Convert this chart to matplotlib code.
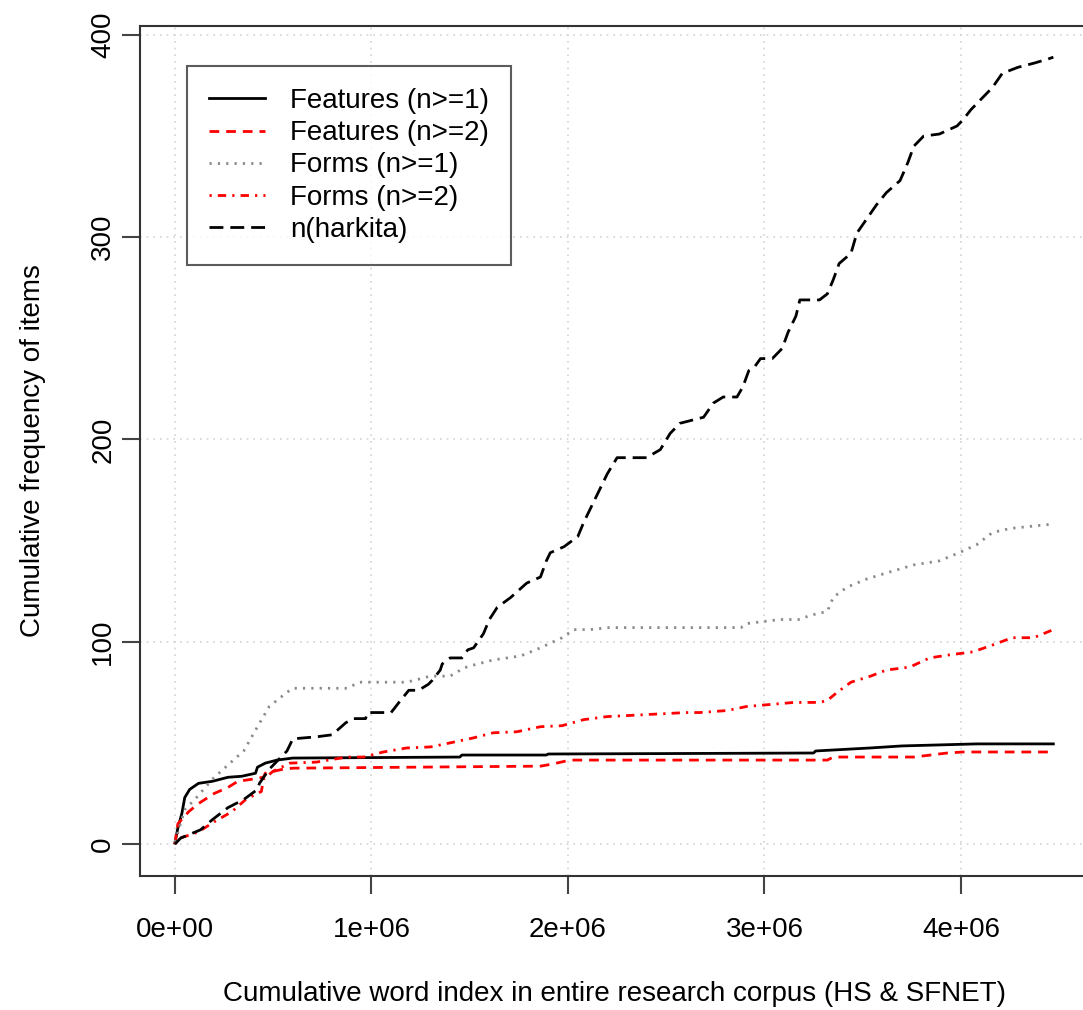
import numpy as np
import matplotlib
matplotlib.use("Agg")
import matplotlib.pyplot as plt

plt.rcParams['font.family'] = ['Liberation Sans', 'DejaVu Sans']

# cumulative word index (millions) and cumulative counts for each series
harkita_x = [0, 0.03, 0.13, 0.19, 0.27, 0.35, 0.42, 0.43, 0.48, 0.57, 0.60, 0.72, 0.80, 0.87,
             0.91, 0.97, 0.98, 1.10, 1.14, 1.19, 1.24, 1.29, 1.31, 1.35, 1.36, 1.40, 1.46,
             1.49, 1.52, 1.57, 1.60, 1.64, 1.71, 1.79, 1.86, 1.89, 1.91, 1.98, 2.05, 2.08,
             2.13, 2.16, 2.20, 2.25, 2.40, 2.47, 2.52, 2.57, 2.69, 2.74, 2.79, 2.86, 2.89,
             2.92, 2.95, 2.98, 3.04, 3.09, 3.12, 3.16, 3.18, 3.28, 3.32, 3.35, 3.38, 3.44,
             3.47, 3.52, 3.57, 3.62, 3.69, 3.73, 3.76, 3.81, 3.89, 3.98, 4.01, 4.05, 4.11,
             4.16, 4.21, 4.29, 4.37, 4.44, 4.47]
harkita_y = [0, 3, 7, 12, 18, 22, 27, 30, 37, 46, 52, 53, 54, 60,
             62, 62, 65, 65, 70, 76, 76, 79, 81, 86, 89, 92, 92,
             96, 97, 104, 111, 117, 122, 129, 132, 140, 144, 147, 152, 159,
             169, 175, 183, 191, 191, 195, 203, 208, 211, 218, 221, 221, 226,
             234, 236, 240, 240, 245, 253, 261, 269, 269, 272, 279, 287, 292,
             302, 309, 316, 322, 328, 337, 345, 350, 351, 355, 358, 363, 369,
             374, 381, 384, 386, 388, 389]

forms1_x = [0, 0.05, 0.11, 0.19, 0.28, 0.35, 0.42, 0.48, 0.57, 0.60, 0.875, 0.94, 1.18,
            1.30, 1.40, 1.47, 1.50, 1.62, 1.76, 1.86, 1.97, 2.03, 2.11, 2.21, 2.45, 2.88,
            2.91, 3.08, 3.18, 3.23, 3.32, 3.35, 3.42, 3.52, 3.62, 3.76, 3.89, 3.99, 4.08,
            4.16, 4.25, 4.45]
forms1_y = [1, 17, 23, 32, 40, 46, 58, 68, 75, 77, 77, 80, 80,
            83, 83, 87, 88, 91, 93, 97, 102, 106, 106, 107, 107, 107,
            109, 111, 111, 113, 115, 122, 127, 131, 134, 138, 140, 144, 148,
            154, 156, 158]

forms2_x = [0, 0.03, 0.12, 0.20, 0.29, 0.36, 0.40, 0.44, 0.45, 0.50, 0.585, 0.72, 0.875,
            0.96, 1.06, 1.18, 1.30, 1.40, 1.52, 1.62, 1.74, 1.86, 1.97, 2.08, 2.20, 2.40,
            2.60, 2.67, 2.81, 2.91, 3.03, 3.15, 3.28, 3.32, 3.37, 3.44, 3.54, 3.62, 3.74,
            3.84, 3.94, 4.06, 4.15, 4.26, 4.37, 4.47]
forms2_y = [0, 3, 6, 11, 16, 22, 24, 26, 32, 36, 40, 40.5, 43,
            43, 45.5, 47.5, 48, 50, 52.5, 55, 55.5, 58, 58.5, 61.5, 63, 64,
            65, 65, 66, 68, 69, 70, 70, 71, 75, 80, 83, 86, 87.5,
            92, 93.5, 95, 98, 102, 102, 106]

feat1_x = [0, 0.015, 0.035, 0.05, 0.075, 0.12, 0.19, 0.27, 0.34, 0.41, 0.42, 0.46, 0.52,
           0.60, 1.45, 1.46, 1.89, 1.90, 3.25, 3.26, 3.54, 3.70, 4.08, 4.47]
feat1_y = [0.5, 8, 15, 23, 27, 30, 31, 33, 33.5, 35, 38, 40, 41.5,
           42.5, 43, 44, 44, 44.5, 45, 46, 47.5, 48.5, 49.5, 49.5]

feat2_x = [0, 0.015, 0.07, 0.12, 0.20, 0.27, 0.32, 0.39, 0.45, 0.46, 0.55, 0.60, 1.86,
           1.92, 2.01, 2.88, 3.32, 3.35, 3.76, 3.93, 4.01, 4.47]
feat2_y = [0, 10, 16, 20, 25, 28, 31, 32, 33, 35, 37, 37.5, 38.5,
           39.5, 41.5, 41.5, 41.5, 43, 43, 45, 45.5, 45.5]

x_ticks = [0, 1e6, 2e6, 3e6, 4e6]
x_tick_labels = ['0e+00', '1e+06', '2e+06', '3e+06', '4e+06']
y_ticks = [0, 100, 200, 300, 400]

fig = plt.figure(figsize=(10.83, 10.10), dpi=100)
W, H = 1083.0, 1010.0
ax = fig.add_axes([139.8 / W, 1 - 875.5 / H, 948.7 / W, 849.8 / H])

mill = lambda v: np.array(v) * 1e6
fs = 20
lw = 2.0

ax.plot(mill(feat1_x), feat1_y, color='black', lw=lw, linestyle='-', label='Features (n>=1)')
ax.plot(mill(feat2_x), feat2_y, color='red', lw=lw, linestyle=(0, (3.5, 2.5)), label='Features (n>=2)')
ax.plot(mill(forms1_x), forms1_y, color='#8a8a8a', lw=lw, linestyle=(0, (0.8, 2.2)), label='Forms (n>=1)')
ax.plot(mill(forms2_x), forms2_y, color='red', lw=lw, linestyle=(0, (0.8, 2.2, 3, 2.2)), label='Forms (n>=2)')
ax.plot(mill(harkita_x), harkita_y, color='black', lw=lw, linestyle=(0, (5, 2.5)), label='n(harkita)')

# R style: 4% padding on each side
xmax = max(harkita_x) * 1e6
ymax = max(harkita_y)
ax.set_xlim(-0.04 * xmax, 1.04 * xmax)
ax.set_ylim(-0.04 * ymax, 1.04 * ymax)

for v in x_ticks:
    ax.axvline(v, color='#d3d3d3', lw=1.2, linestyle=(0, (1, 3)), zorder=0)
for v in y_ticks:
    ax.axhline(v, color='#d3d3d3', lw=1.2, linestyle=(0, (1, 3)), zorder=0)

ax.set_xticks(x_ticks)
ax.set_xticklabels(x_tick_labels, fontsize=fs)
ax.set_yticks(y_ticks)
ax.set_yticklabels([str(v) for v in y_ticks], fontsize=fs, rotation=90, va='center')
ax.tick_params(axis='both', length=13, width=1.5, color='#444444')
ax.tick_params(axis='x', pad=17)
ax.tick_params(axis='y', pad=4)

for s in ax.spines.values():
    s.set_linewidth(1.5)
    s.set_color('#333333')

ax.set_xlabel('Cumulative word index in entire research corpus (HS & SFNET)', fontsize=fs, labelpad=27)
ax.set_ylabel('Cumulative frequency of items', fontsize=fs, labelpad=32)

leg = ax.legend(loc='upper left', bbox_to_anchor=(0.0497, 0.9526), borderaxespad=0,
                fontsize=fs, fancybox=False, frameon=True, edgecolor='#333333',
                handlelength=2.0, handletextpad=0.9, labelspacing=0.22, borderpad=0.8)
leg.get_frame().set_linewidth(1.5)

fig.savefig('out.png', dpi=100)
